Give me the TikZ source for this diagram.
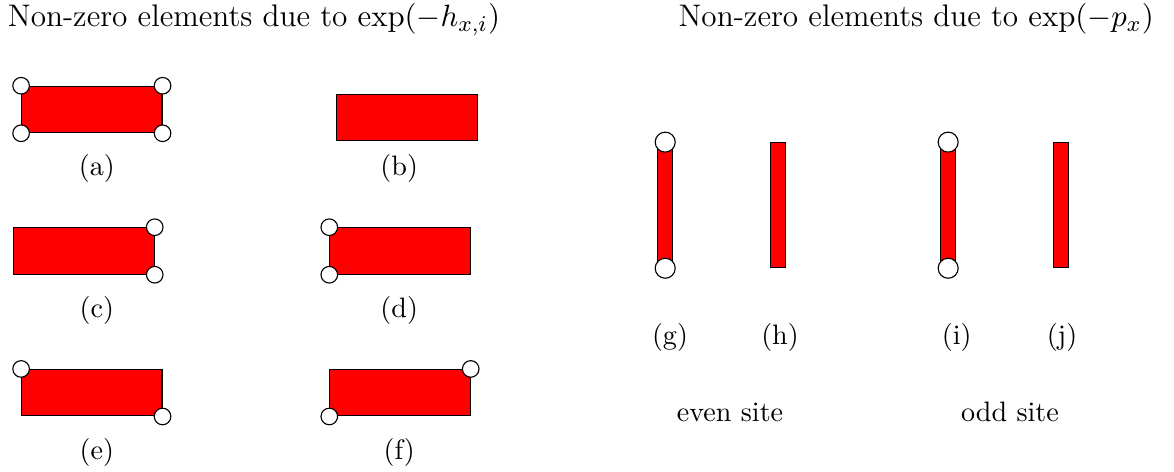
\documentclass[tikz,border=0pt]{standalone}
\usepackage{amsmath}
\usetikzlibrary{positioning}

\begin{document}
\begin{tikzpicture}[every node/.style={font=\normalsize},
    elem/.style={draw, fill=red, inner sep=0pt, minimum width=1.754cm, minimum height=0.58cm},
    bar/.style={draw, fill=red, inner sep=0pt, minimum width=0.1875cm, minimum height=1.5625cm},
    site/.style={circle, draw, fill=white, inner sep=0pt, minimum size=0.2075cm},
    bigsite/.style={circle, draw, fill=white, inner sep=0pt, minimum size=0.25cm},
    tag/.style={anchor=base, inner sep=0pt},
    title/.style={anchor=base west, inner sep=0pt, font=\fontsize{11.1}{13}\selectfont}]
  \useasboundingbox (0,0) rectangle (14.675,5.9);
  % titles
  \node[title] (titleh) at (0.091,5.566) {Non-zero elements due to $\exp(-h_{x,i})$};
  \node[title] (titlep) at (8.475,5.566) {Non-zero elements due to $\exp(-p_x)$};
  % hopping elements
  \node[elem] (a) at (1.148,4.531) {};
  \node[elem] (b) at (5.0875,4.431) {};
  \node[elem] (c) at (1.05,2.7625) {};
  \node[elem] (d) at (5.0,2.7625) {};
  \node[elem] (e) at (1.148,0.991) {};
  \node[elem] (f) at (5.0,0.991) {};
  \node[site] (a-nw) at (a.north west) {};
  \node[site] (a-ne) at (a.north east) {};
  \node[site] (a-sw) at (a.south west) {};
  \node[site] (a-se) at (a.south east) {};
  \node[site] (c-ne) at (c.north east) {};
  \node[site] (c-se) at (c.south east) {};
  \node[site] (d-nw) at (d.north west) {};
  \node[site] (d-sw) at (d.south west) {};
  \node[site] (e-nw) at (e.north west) {};
  \node[site] (e-se) at (e.south east) {};
  \node[site] (f-ne) at (f.north east) {};
  \node[site] (f-sw) at (f.south west) {};
  \node[tag] (la) at (1.21,3.71) {(a)};
  \node[tag] (lb) at (4.99,3.70) {(b)};
  \node[tag] (lc) at (1.21,1.925) {(c)};
  \node[tag] (ld) at (4.99,1.925) {(d)};
  \node[tag] (le) at (1.21,0.156) {(e)};
  \node[tag] (lf) at (4.99,0.156) {(f)};
  % on-site elements
  \node[bar] (g) at (8.315,3.335) {};
  \node[bar] (h) at (9.727,3.335) {};
  \node[bar] (i) at (11.852,3.335) {};
  \node[bar] (j) at (13.266,3.335) {};
  \node[bigsite] (g-n) at (g.north) {};
  \node[bigsite] (g-s) at (g.south) {};
  \node[bigsite] (i-n) at (i.north) {};
  \node[bigsite] (i-s) at (i.south) {};
  \node[tag] (lg) at (8.375,1.596) {(g)};
  \node[tag] (lh) at (9.75,1.596) {(h)};
  \node[tag] (li) at (11.96,1.596) {(i)};
  \node[tag] (lj) at (13.275,1.596) {(j)};
  \node[tag] (even) at (9.125,0.629) {even site};
  \node[tag] (odd) at (12.625,0.629) {odd site};
\end{tikzpicture}
\end{document}
